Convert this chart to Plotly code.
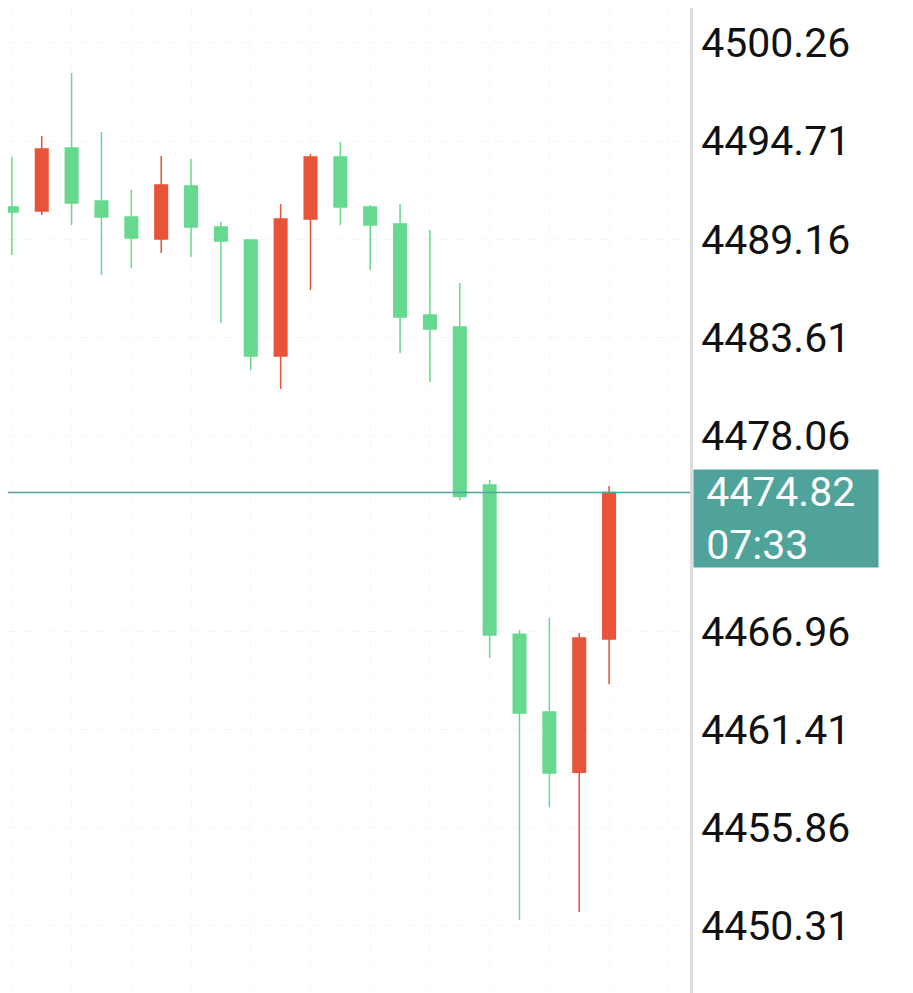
import plotly.graph_objects as go

# candles, oldest -> newest (red = rising, green = falling)
opens = [4490.98, 4490.75, 4494.32, 4491.32, 4490.41, 4489.17, 4492.17, 4489.85, 4489.11, 4482.55, 4490.30,
         4493.81, 4490.98, 4490.02, 4484.87, 4484.19, 4475.25, 4466.81, 4462.40, 4459.00, 4466.53]
highs = [4493.81, 4495.00, 4498.56, 4495.22, 4491.94, 4493.86, 4493.70, 4490.13, 4489.11, 4491.15, 4493.98,
         4494.66, 4491.09, 4491.15, 4489.68, 4486.68, 4475.53, 4467.04, 4467.72, 4466.87, 4475.19]
lows = [4488.26, 4490.53, 4489.96, 4487.13, 4487.53, 4488.38, 4488.15, 4484.41, 4481.75, 4480.68, 4486.28,
        4489.96, 4487.41, 4482.72, 4481.07, 4474.40, 4465.46, 4450.63, 4457.02, 4451.08, 4463.98]
closes = [4490.70, 4494.26, 4491.21, 4490.41, 4489.22, 4492.22, 4489.85, 4489.05, 4482.55, 4490.30, 4493.81,
          4490.98, 4489.96, 4484.75, 4484.07, 4474.60, 4466.76, 4462.34, 4458.95, 4466.59, 4474.82]
tick_vals = [4450.31, 4455.86, 4461.41, 4466.96, 4472.51, 4478.06, 4483.61, 4489.16, 4494.71, 4500.26]
shown_ticks = [t for t in tick_vals if t != 4472.51]  # hidden behind the price tag
last_price = 4474.82
last_time = "07:33"

red = '#e8533a'
green = '#66d98f'
teal = '#4fa39a'

fig = go.Figure()
fig.add_trace(go.Candlestick(
    x=list(range(len(opens))),
    open=opens, high=highs, low=lows, close=closes,
    increasing=dict(line=dict(color=red, width=1.5), fillcolor=red),
    decreasing=dict(line=dict(color=green, width=1.5), fillcolor=green),
    whiskerwidth=0,
    showlegend=False,
))

# last price line + tag on the axis
fig.add_hline(y=last_price, line=dict(color=teal, width=1.5))
fig.add_annotation(
    x=1, xref='paper', xanchor='left', xshift=3,
    y=last_price, yanchor='top', yshift=24,
    text=f"&nbsp;{last_price:.2f}<br>&nbsp;{last_time}", showarrow=False, align='left',
    font=dict(family='Roboto', size=41, color='white'),
    bgcolor=teal, width=180, height=93, borderpad=2,
)

fig.update_layout(
    width=913, height=993,
    margin=dict(l=0, r=231, t=0, b=0),
    paper_bgcolor='white', plot_bgcolor='white',
    boxgap=0.4,
    xaxis=dict(range=[-0.13, 22.71], showticklabels=False, rangeslider=dict(visible=False),
               showgrid=True, gridcolor='#f7f7f7', griddash='dash', dtick=2, zeroline=False),
    yaxis=dict(range=[4446.05, 4502.24], side='right', tickvals=shown_ticks,
               ticktext=[f"{t:.2f}" for t in shown_ticks],
               tickfont=dict(family='Roboto', size=41, color='#111'),
               showgrid=True, gridcolor='#f6f6f6', griddash='dash',
               showline=True, linecolor='#dddddd', linewidth=3, ticks='', zeroline=False),
)

fig.write_html("out.html")
